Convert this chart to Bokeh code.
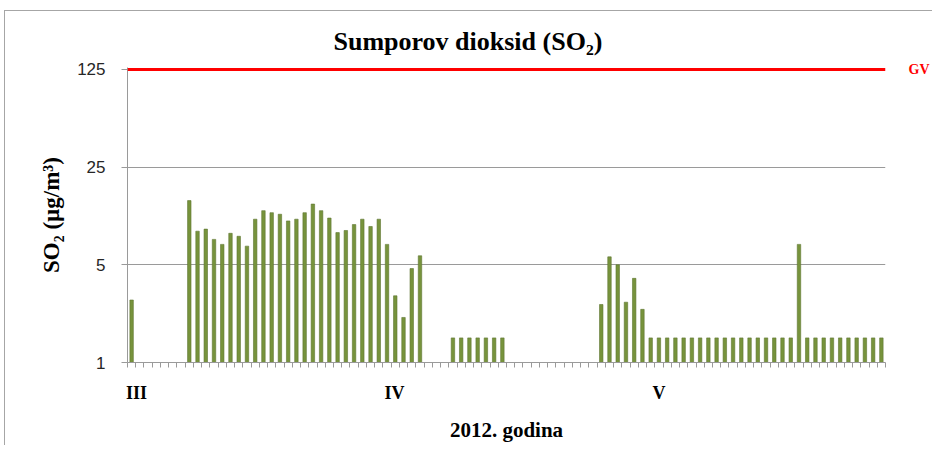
import numpy as np
from bokeh.plotting import figure
from bokeh.models import ColumnDataSource, FixedTicker, Span, LogAxis
from bokeh.embed import file_html
from bokeh.resources import INLINE

nan = float("nan")

# Daily SO2 values (µg/m3), 1 March - 31 May 2012; nan = no value shown
march = [2.8, nan, nan, nan, nan, nan, nan,
         14.4, 8.7, 9.0, 7.6, 7.0, 8.4, 8.0, 6.8, 10.6, 12.2, 11.8, 11.5,
         10.3, 10.6, 11.8, 13.6, 12.2, 10.8, 8.5, 8.8, 9.7, 10.6, 9.4, 10.6]
april = [7.0, 3.0, 2.1, 4.7, 5.8, nan, nan, nan,
         1.5, 1.5, 1.5, 1.5, 1.5, 1.5, 1.5,
         nan, nan, nan, nan, nan, nan, nan, nan, nan, nan, nan,
         2.6, 5.7, 5.0, 2.7]
may = [4.0, 2.4] + [1.5] * 18 + [7.0] + [1.5] * 10

values = march + april + may
day_index = list(range(len(values)))

limit_value = 125           # GV (granična vrijednost)
limit_label = "GV"
y_ticks = [1, 5, 25, 125]
month_labels = ["III", "IV", "V"]
month_label_pos = [1.1, 32.4, 64.5]

src = ColumnDataSource(data=dict(x=[d + 0.5 for d in day_index],
                                 top=np.array(values, dtype=float)))

W, H = 932, 445
p = figure(width=W, height=H, output_backend="svg", toolbar_location=None,
           y_axis_type="log", x_range=(0, len(values)), y_range=(1, 129),
           min_border_left=127, min_border_right=43,
           min_border_top=67, min_border_bottom=83)
p.border_fill_alpha = 0
p.styles = {"background": (
    "linear-gradient(#a6a6a6,#a6a6a6) 4px 10px / 1px calc(100% - 10px) no-repeat, "
    "linear-gradient(#a6a6a6,#a6a6a6) 4px 10px / calc(100% - 4px) 1px no-repeat, "
    "white")}

p.title.text = "Sumporov dioksid (SO\u2082)"
p.title.align = "left"
p.title.offset = 206
p.title.text_font = "Liberation Serif"
p.title.text_font_size = "26px"
p.title.text_font_style = "bold"
p.title.text_color = "#000000"
p.title.standoff = 24

p.outline_line_color = None
p.background_fill_color = "white"

p.vbar(x="x", top="top", bottom=1, width=0.42, source=src,
       fill_color="#77933C", line_color="#5E7631", line_width=0.6)

p.add_layout(Span(location=limit_value, dimension="width",
                  line_color="#FF0000", line_width=3))

# grid
p.xgrid.grid_line_color = None
p.ygrid.ticker = FixedTicker(ticks=y_ticks[:-1])
p.ygrid.grid_line_color = "#9a9a9a"
p.ygrid.grid_line_width = 1

# y axis
ya = p.yaxis[0]
ya.ticker = FixedTicker(ticks=y_ticks, minor_ticks=[])
ya.major_label_overrides = {t: str(t) for t in y_ticks}
ya.axis_line_color = "#9a9a9a"
ya.major_tick_line_color = "#9a9a9a"
ya.major_tick_out = 6
ya.major_tick_in = 0
ya.minor_tick_line_color = None
ya.major_label_text_font = "Liberation Sans"
ya.major_label_text_font_size = "17px"
ya.major_label_text_color = "#262626"
ya.major_label_standoff = 16
ya.axis_label = "SO\u2082 (\u00b5g/m\u00b3)"
ya.axis_label_text_font = "Liberation Serif"
ya.axis_label_text_font_size = "23px"
ya.axis_label_text_font_style = "bold"
ya.axis_label_text_color = "#000000"
ya.axis_label_standoff = 10

# right axis carrying the GV label
gv_axis = LogAxis(ticker=FixedTicker(ticks=[limit_value], minor_ticks=[]),
                  major_label_overrides={limit_value: limit_label})
gv_axis.axis_line_color = None
gv_axis.major_tick_line_color = None
gv_axis.minor_tick_line_color = None
gv_axis.major_label_standoff = 17
gv_axis.major_label_text_font = "Liberation Serif"
gv_axis.major_label_text_font_style = "bold"
gv_axis.major_label_text_font_size = "14px"
gv_axis.major_label_text_color = "#FF0000"
p.add_layout(gv_axis, "right")

# x axis
xa = p.xaxis[0]
xa.ticker = FixedTicker(ticks=month_label_pos, minor_ticks=list(range(len(values) + 1)))
xa.major_label_overrides = {pos: lab for pos, lab in zip(month_label_pos, month_labels)}
xa.axis_line_color = "#9a9a9a"
xa.major_tick_line_color = None
xa.minor_tick_line_color = "#9a9a9a"
xa.minor_tick_out = 5
xa.minor_tick_in = 0
xa.major_label_text_font = "Liberation Serif"
xa.major_label_text_font_size = "18px"
xa.major_label_text_font_style = "bold"
xa.major_label_text_color = "#000000"
xa.major_label_standoff = 14
xa.axis_label = "2012. godina"
xa.axis_label_text_font = "Liberation Serif"
xa.axis_label_text_font_size = "21px"
xa.axis_label_text_font_style = "bold"
xa.axis_label_text_color = "#000000"
xa.axis_label_standoff = 12

open("out.html", "w").write(file_html(p, INLINE))
